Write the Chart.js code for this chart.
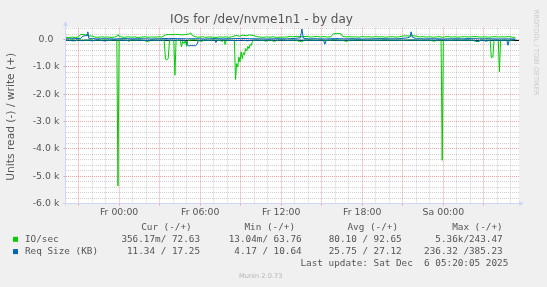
<!DOCTYPE html>
<html><head><meta charset="utf-8">
<script src="https://cdn.jsdelivr.net/npm/chart.js@4/dist/chart.umd.min.js"></script>
<style>html,body{margin:0;padding:0;background:#F0F0F0;overflow:hidden}canvas{display:block}</style>
</head><body>
<canvas id="c" width="547" height="287"></canvas>
<script>
// ---- DATA (time in minutes relative to Fr 00:00, values in units) ----
const ioWrite = [[-238,85],[-225,70],[-210,90],[-195,75],[-180,95],[-172,180],[-160,185],[-150,175],[-140,180],[-135,130],[-120,125],[-110,95],[-95,80],[-80,100],[-65,85],[-50,95],[-35,75],[-20,90],[-10,110],[-5,180],[0,120],[10,95],[25,80],[40,100],[55,85],[70,95],[85,70],[100,90],[115,100],[130,80],[145,95],[160,85],[175,100],[190,90],[205,170],[220,185],[235,175],[250,190],[265,180],[280,170],[295,185],[310,200],[318,243],[325,150],[340,95],[355,85],[370,100],[385,80],[400,95],[415,90],[430,75],[445,100],[460,85],[475,95],[490,80],[505,110],[520,150],[535,120],[550,160],[565,140],[580,170],[595,150],[610,110],[625,90],[640,80],[655,95],[670,85],[685,100],[700,75],[715,90],[730,85],[745,95],[760,110],[775,100],[790,120],[805,95],[820,105],[835,115],[850,90],[865,100],[880,110],[895,95],[910,105],[925,90],[940,100],[948,180],[955,215],[965,220],[975,220],[985,210],[992,120],[1005,95],[1020,105],[1035,90],[1050,100],[1065,85],[1080,110],[1095,95],[1110,100],[1125,90],[1140,105],[1155,95],[1170,100],[1185,85],[1200,95],[1215,105],[1230,90],[1245,100],[1260,130],[1275,135],[1290,125],[1305,140],[1320,120],[1335,95],[1350,105],[1365,90],[1380,100],[1395,85],[1410,95],[1425,105],[1435,80],[1445,95],[1460,110],[1475,90],[1490,100],[1505,85],[1520,95],[1535,105],[1550,90],[1565,100],[1580,110],[1595,95],[1610,90],[1625,100],[1640,85],[1655,95],[1670,105],[1685,90],[1700,100],[1715,95],[1730,110],[1745,85],[1760,73]];
const ioRead = [[-238,-15],[-220,-25],[-205,-10],[-192,-50],[-185,-15],[-165,-20],[-145,-30],[-125,-10],[-110,-45],[-100,-15],[-80,-25],[-60,-10],[-45,-35],[-30,-15],[-15,-20],[-10,-25],[-5,-5360],[0,-30],[15,-15],[30,-20],[45,-60],[55,-15],[75,-25],[95,-10],[110,-30],[130,-90],[140,-15],[160,-25],[180,-20],[200,-25],[206,-720],[212,-740],[218,-700],[224,-40],[235,-25],[243,-30],[248,-1306],[253,-40],[265,-30],[272,-35],[277,-270],[282,-60],[288,-150],[294,-40],[300,-250],[306,-30],[320,-20],[335,-15],[350,-25],[365,-70],[380,-20],[400,-30],[420,-15],[440,-25],[460,-60],[466,-20],[471,-180],[476,-25],[490,-20],[505,-30],[512,-35],[517,-1460],[522,-880],[527,-1000],[532,-640],[537,-820],[542,-450],[547,-700],[552,-480],[557,-560],[562,-330],[567,-420],[572,-250],[577,-330],[582,-180],[587,-220],[592,-80],[597,-30],[615,-20],[630,-25],[655,-60],[670,-15],[690,-70],[705,-20],[725,-15],[745,-30],[765,-20],[785,-25],[810,-85],[825,-20],[845,-15],[870,-25],[900,-20],[930,-30],[960,-15],[990,-25],[1010,-70],[1025,-20],[1050,-15],[1080,-25],[1110,-20],[1140,-30],[1170,-15],[1200,-25],[1230,-20],[1260,-30],[1290,-15],[1320,-25],[1350,-20],[1380,-30],[1400,-60],[1415,-20],[1430,-25],[1435,-4420],[1440,-25],[1460,-20],[1475,-30],[1500,-15],[1520,-25],[1545,-20],[1570,-30],[1590,-80],[1605,-20],[1625,-25],[1640,-15],[1648,-30],[1653,-660],[1660,-640],[1665,-30],[1675,-20],[1684,-25],[1689,-1180],[1694,-30],[1710,-20],[1730,-25],[1745,-15],[1760,-0.36]];
const reqWrite = [[-238,25],[-200,30],[-170,40],[-160,130],[-148,140],[-142,150],[-139,280],[-134,35],[-100,25],[-60,30],[-20,20],[20,35],[60,25],[100,30],[140,20],[180,30],[220,40],[260,35],[300,25],[340,30],[380,20],[420,35],[460,25],[500,30],[540,40],[580,30],[620,25],[660,20],[700,30],[740,25],[780,40],[805,60],[812,385],[818,50],[840,25],[880,30],[920,20],[960,35],[1000,25],[1040,30],[1080,20],[1120,25],[1160,35],[1200,25],[1240,30],[1280,60],[1292,100],[1297,280],[1302,90],[1320,30],[1360,25],[1400,30],[1440,20],[1480,30],[1520,25],[1560,35],[1600,25],[1640,30],[1680,20],[1720,25],[1760,17]];
const reqRead = [[-238,-20],[-220,-35],[-200,-50],[-190,-15],[-180,-25],[-160,-45],[-150,-15],[-130,-30],[-120,-50],[-105,-20],[-90,-15],[-75,-40],[-60,-55],[-50,-20],[-40,-25],[-20,-15],[0,-20],[30,-30],[60,-15],[90,-25],[120,-40],[150,-20],[180,-30],[210,-15],[240,-25],[270,-20],[290,-30],[297,-60],[303,-200],[310,-236],[320,-215],[330,-230],[340,-220],[346,-180],[352,-40],[370,-20],[395,-30],[425,-20],[430,-110],[436,-25],[460,-15],[490,-30],[520,-40],[545,-25],[570,-45],[600,-20],[630,-30],[660,-15],[690,-25],[720,-20],[750,-30],[780,-15],[810,-25],[840,-20],[870,-30],[900,-20],[908,-25],[914,-170],[920,-25],[950,-15],[980,-30],[1010,-20],[1040,-25],[1070,-15],[1100,-30],[1130,-20],[1160,-25],[1190,-15],[1220,-30],[1250,-20],[1280,-25],[1310,-15],[1340,-30],[1370,-20],[1400,-25],[1430,-15],[1460,-30],[1490,-20],[1520,-25],[1550,-15],[1580,-30],[1595,-70],[1610,-20],[1630,-60],[1645,-25],[1670,-20],[1700,-30],[1722,-25],[1727,-210],[1733,-25],[1750,-15],[1760,-11]];

const xTickMinutes = [0, 360, 720, 1080, 1440];
const xTickLabels = ['Fr 00:00', 'Fr 06:00', 'Fr 12:00', 'Fr 18:00', 'Sa 00:00'];
const yTickValues = [-6000, -5000, -4000, -3000, -2000, -1000, 0];
const yTickLabels = ['-6.0 k', '-5.0 k', '-4.0 k', '-3.0 k', '-2.0 k', '-1.0 k', '0.0  '];

const seriesNames = ['IO/sec', 'Req Size (KB)'];
const seriesColors = ['#00CC00', '#0066B3'];
const legendHeaders = ['Cur (-/+)', 'Min (-/+)', 'Avg (-/+)', 'Max (-/+)'];
const legendCur = ['356.17m/ 72.63', '11.34 / 17.25'];
const legendMin = ['13.04m/ 63.76', '4.17 / 10.64'];
const legendAvg = ['80.10 / 92.65', '25.75 / 27.12'];
const legendMax = ['5.36k/243.47', '236.32 /385.23'];

const titleText = 'IOs for /dev/nvme1n1 - by day';
const yAxisTitle = 'Units read (-) / write (+)';
const lastUpdate = 'Last update: Sat Dec  6 05:20:05 2025';
const footerText = 'Munin 2.0.73';
const watermark = 'RRDTOOL / TOBI OETIKER';

// ---- styling ----
const SANS = 'DejaVu Sans', MONO = 'DejaVu Sans Mono';
const TXT = '#555555';
const MINOR = 'rgba(143,143,143,0.42)';
const MAJOR = 'rgba(222,79,79,0.52)';
const AXIS = '#CFD6F8';

const toXY = a => a.map(p => ({x: p[0], y: p[1]}));
const ds = (data, color) => ({data: toXY(data), borderColor: color, backgroundColor: color,
  borderWidth: 1, pointRadius: 0, tension: 0, fill: false});

const hourTicks = [];
for (let m = -180; m <= 1740; m += 60) hourTicks.push({value: m});
const yTicks = [];
for (let v = -6000; v <= 400; v += 200) yTicks.push({value: v});

const muninPlugin = {
  id: 'munin',
  beforeDraw(chart) {
    const {ctx, chartArea: ca} = chart;
    ctx.save();
    ctx.fillStyle = '#FFFFFF';
    ctx.fillRect(ca.left, ca.top, ca.right - ca.left, ca.bottom - ca.top);
    ctx.restore();
  },
  beforeDatasetsDraw(chart) {
    const {ctx, chartArea: ca} = chart;
    const y0 = Math.round(chart.scales.y.getPixelForValue(0)) + 0.5;
    ctx.save();
    ctx.strokeStyle = '#000000'; ctx.lineWidth = 1;
    ctx.beginPath(); ctx.moveTo(ca.left, y0); ctx.lineTo(ca.right, y0); ctx.stroke();
    ctx.restore();
  },
  afterDraw(chart) {
    const {ctx: c, chartArea: ca} = chart;
    c.save();
    // axes + arrows
    c.strokeStyle = AXIS; c.fillStyle = AXIS; c.lineWidth = 1;
    c.beginPath(); c.moveTo(ca.left, ca.bottom + 2); c.lineTo(ca.left, 26); c.stroke();
    c.beginPath(); c.moveTo(ca.left - 3, ca.bottom); c.lineTo(ca.right, ca.bottom); c.stroke();
    c.beginPath(); c.moveTo(ca.left - 2.5, 26); c.lineTo(ca.left + 2.5, 26); c.lineTo(ca.left, 21); c.closePath(); c.fill();
    c.beginPath(); c.moveTo(ca.right, ca.bottom - 2.5); c.lineTo(ca.right, ca.bottom + 2.5); c.lineTo(ca.right + 5, ca.bottom); c.closePath(); c.fill();

    // title
    c.fillStyle = TXT;
    c.font = `12px "${SANS}"`; c.textAlign = 'center'; c.textBaseline = 'alphabetic';
    c.fillText(titleText, 261.5, 22.8);

    // y axis title
    c.save();
    c.translate(11.7, 116.7); c.rotate(-Math.PI / 2);
    c.font = `10.67px "${SANS}"`; c.textAlign = 'center'; c.textBaseline = 'middle';
    c.fillText(yAxisTitle, 0, 0);
    c.restore();

    // watermark
    c.save();
    c.translate(536, 52.5); c.rotate(Math.PI / 2);
    c.fillStyle = '#C8C8C8';
    c.font = `6.67px "${SANS}"`; c.textAlign = 'center'; c.textBaseline = 'middle';
    c.fillText(watermark, 0, 0);
    c.restore();

    // legend
    c.font = `9.33px "${MONO}"`; c.textBaseline = 'middle';
    const headerEnds = [191.7, 295, 398, 502.7];
    const valEnds = [200, 301.7, 401.7, 502.7];
    c.textAlign = 'right';
    legendHeaders.forEach((h, i) => c.fillText(h, headerEnds[i], 227.7));
    const rowY = [239.3, 251.6];
    const cols = [legendCur, legendMin, legendAvg, legendMax];
    seriesNames.forEach((n, r) => {
      c.fillStyle = seriesColors[r];
      c.fillRect(13, rowY[r] - 2.5, 5, 5);
      c.fillStyle = TXT;
      c.textAlign = 'left';
      c.fillText(n, 25, rowY[r]);
      c.textAlign = 'right';
      cols.forEach((col, k) => c.fillText(col[r], valEnds[k], rowY[r]));
    });
    c.fillText(lastUpdate, 508.3, 264);

    // footer
    c.fillStyle = '#B4B4B4';
    c.font = `6.67px "${SANS}"`; c.textAlign = 'center';
    c.fillText(footerText, 260.7, 276.3);
    c.restore();
  }
};

new Chart(document.getElementById('c'), {
  type: 'line',
  data: {
    datasets: [
      ds(reqWrite, seriesColors[1]),
      ds(reqRead, seriesColors[1]),
      ds(ioWrite, seriesColors[0]),
      ds(ioRead, seriesColors[0])
    ]
  },
  options: {
    responsive: false,
    animation: false,
    devicePixelRatio: 1,
    layout: {padding: {left: 0, top: 27.5, right: 28, bottom: 67.5}},
    plugins: {legend: {display: false}, tooltip: {enabled: false}, title: {display: false}},
    scales: {
      x: {
        type: 'linear', min: -238, max: 1776,
        afterBuildTicks: s => { s.ticks = hourTicks.map(t => ({value: t.value})); },
        afterFit: s => { s.height = 16; },
        ticks: {
          autoSkip: false, maxRotation: 0, minRotation: 0, padding: 1,
          color: TXT, font: {family: SANS, size: 9.33},
          callback: v => { const i = xTickMinutes.indexOf(v); return i >= 0 ? xTickLabels[i] : ''; }
        },
        grid: {
          color: ctx => (ctx.tick && ctx.tick.value % 180 === 0) ? MAJOR : MINOR,
          tickColor: ctx => (ctx.tick && ctx.tick.value % 180 === 0) ? MAJOR : 'rgba(0,0,0,0)',
          tickLength: 2, drawTicks: true, lineWidth: 1
        },
        border: {display: false, dash: [1, 1]}
      },
      y: {
        type: 'linear', min: -6000, max: 440,
        afterBuildTicks: s => { s.ticks = yTicks.map(t => ({value: t.value})); },
        afterFit: s => { s.width = 65.5; },
        ticks: {
          autoSkip: false, padding: 4.2,
          color: TXT, font: {family: SANS, size: 9.33},
          callback: v => { const i = yTickValues.indexOf(v); return i >= 0 ? yTickLabels[i] : ''; }
        },
        grid: {
          color: ctx => (ctx.tick && ctx.tick.value % 1000 === 0) ? MAJOR : MINOR,
          tickColor: ctx => (ctx.tick && ctx.tick.value % 1000 === 0) ? MAJOR : 'rgba(0,0,0,0)',
          tickLength: 2, drawTicks: true, lineWidth: 1
        },
        border: {display: false, dash: [1, 1]}
      }
    }
  },
  plugins: [muninPlugin]
});
</script>
</body></html>
